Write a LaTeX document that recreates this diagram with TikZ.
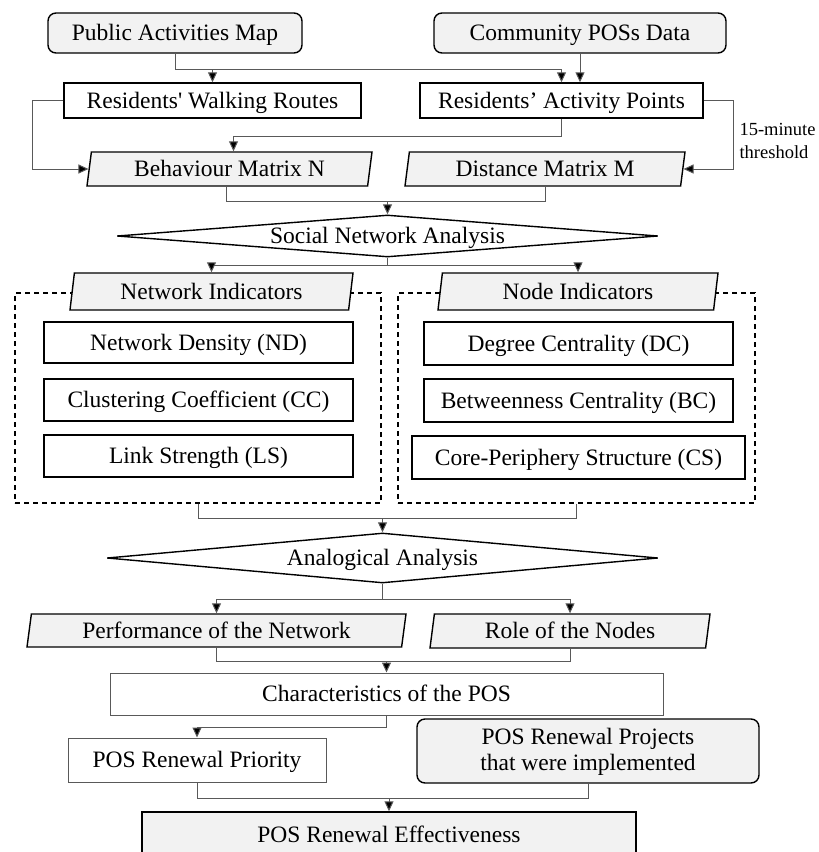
\documentclass[tikz,border=0pt]{standalone}
\usepackage{fontspec}
\setmainfont{Liberation Serif}
\usetikzlibrary{shapes,arrows.meta,positioning}
\definecolor{boxgray}{HTML}{F2F2F2}
\definecolor{linegray}{HTML}{595959}

\begin{document}
\begin{tikzpicture}[x=1pt, y=-1pt, font=\fontsize{23.5}{26}\selectfont]
    \tikzset{
        box/.style      =   { rectangle
                            , draw=black
                            , line width=1.4pt
                            , inner sep=2pt
                            , text height=15pt
                            , text depth=0pt
        }
        , rbox/.style   =   { box
                            , rounded corners=8pt
                            , fill=boxgray
        }
        , thin/.style   =   { box
                            , draw=linegray
                            , line width=1pt
        }
        , para/.style   =   { trapezium
                            , trapezium left angle=77
                            , trapezium right angle=103
                            , trapezium stretches body
                            , draw=black
                            , line width=1.4pt
                            , fill=boxgray
                            , text height=15pt
                            , text depth=0pt
                            , inner sep=2pt
        }
        , dec/.style    =   { diamond
                            , draw=black
                            , line width=1.4pt
                            , aspect=12
                            , text height=15pt
                            , text depth=0pt
                            , inner sep=0pt
        }
        , grp/.style    =   { rectangle
                            , draw=black
                            , line width=1.2pt
                            , dash pattern=on 5pt off 4pt
        }
        , line/.style   =   { draw=linegray
                            , line width=1pt
        }
        , arrow/.style  =   { line
                            , -{Triangle[length=10pt,width=9pt,fill=black]}
        }
    }
    \useasboundingbox (0,0) rectangle (819,852);

    % inputs
    \node(pam)[rbox, minimum width=254pt, minimum height=40pt] at (175,33) {Public Activities Map};
    \node(cpd)[rbox, minimum width=292pt, minimum height=40pt] at (580,33) {Community POSs Data};
    \node(rwr)[box, minimum width=297pt, minimum height=35pt] at (212.5,100.5) {Residents\textquotesingle{} Walking Routes};
    \node(rap)[box, minimum width=283pt, minimum height=35pt] at (561.5,100.5) {Residents’ Activity Points};
    \node(bmn)[para, minimum width=285pt, minimum height=34pt] at (229.5,169) {Behaviour Matrix N};
    \node(dmm)[para, minimum width=280pt, minimum height=34pt] at (545,169) {Distance Matrix M};
    \node(thr)[anchor=west, align=left, font=\fontsize{18.5}{23}\selectfont] at (736,141) {15-minute\\threshold};

    \draw[arrow] (pam.south) -- ++(0,16) -| (rwr.north);
    \draw[arrow] (pam.south) -- ++(0,16) -| (rap.north);
    \draw[arrow] (cpd.south) -- (cpd.south |- rap.north);
    \draw[arrow] (rwr.west) -- ++(-31,0) |- (bmn.west);
    \draw[arrow] (rap.south) -- ++(0,18) -| ([xshift=4pt]bmn.north);
    \draw[arrow] (rap.east) -- ++(30,0) |- (dmm.east);

    % social network analysis
    \node(sna)[dec, minimum width=541pt, minimum height=42pt] at (387.5,236) {Social Network Analysis};
    \coordinate(j1) at (387.5,201);
    \draw[line] ([xshift=-3pt]bmn.south) -- ++(0,15) -| (dmm.south);
    \draw[arrow] (j1) -- (sna.north);

    \node(netgrp)[grp, minimum width=366pt, minimum height=210pt] at (198,398) {};
    \node(nodegrp)[grp, minimum width=357pt, minimum height=210pt] at (576.5,398) {};
    \node(nind)[para, minimum width=283pt, minimum height=37pt] at (211.5,291.5) {Network Indicators};
    \node(noind)[para, minimum width=280pt, minimum height=37pt] at (578,291.5) {Node Indicators};
    \node(nd)[box, minimum width=309pt, minimum height=41pt] at (198.5,342.5) {Network Density (ND)};
    \node(cc)[box, minimum width=309pt, minimum height=42pt] at (198.5,400) {Clustering Coefficient (CC)};
    \node(ls)[box, minimum width=309pt, minimum height=42pt] at (198.5,456) {Link Strength (LS)};
    \node(dc)[box, minimum width=309pt, minimum height=43pt] at (578.5,343.5) {Degree Centrality (DC)};
    \node(bc)[box, minimum width=309pt, minimum height=43pt] at (578.5,400.5) {Betweenness Centrality (BC)};
    \node(cs)[box, minimum width=333pt, minimum height=43pt] at (578.5,457.5) {Core-Periphery Structure (CS)};

    \draw[arrow] (sna.south) -- ++(0,8) -| (nind.north);
    \draw[arrow] (sna.south) -- ++(0,8) -| (noind.north);

    % analogical analysis
    \node(aa)[dec, minimum width=551pt, minimum height=50pt] at (382.5,558) {Analogical Analysis};
    \coordinate(j2) at (382.5,518);
    \draw[line] (netgrp.south) -- ++(0,15) -| (nodegrp.south);
    \draw[arrow] (j2) -- (aa.north);

    \node(perf)[para, minimum width=379pt, minimum height=33pt] at (216.5,630.5) {Performance of the Network};
    \node(role)[para, minimum width=280pt, minimum height=34pt] at (570,631) {Role of the Nodes};
    \draw[arrow] (aa.south) -- ++(0,16) -| (perf.north);
    \draw[arrow] (aa.south) -- ++(0,16) -| (role.north);

    % results
    \node(char)[thin, minimum width=553pt, minimum height=42pt] at (386.5,694) {Characteristics of the POS};
    \coordinate(j3) at (386.5,661);
    \draw[line] (perf.south) -- ++(0,14) -| (role.south);
    \draw[arrow] (j3) -- (char.north);

    \node(prio)[thin, minimum width=258pt, minimum height=44pt] at (197,760) {POS Renewal Priority};
    \node(proj)[rbox, minimum width=342pt, minimum height=64pt] at (588,751)
        {\begin{tabular}{@{}c@{}}POS Renewal Projects\\that were implemented\end{tabular}};
    \draw[arrow] (char.south) -- ++(0,12) -| (prio.north);

    \node(eff)[box, fill=boxgray, minimum width=494pt, minimum height=46pt] at (389,835) {POS Renewal Effectiveness};
    \coordinate(j4) at (389,798);
    \draw[line] (prio.south) -- ++(0,16) -| (proj.south);
    \draw[arrow] (j4) -- (eff.north);
\end{tikzpicture}
\end{document}
